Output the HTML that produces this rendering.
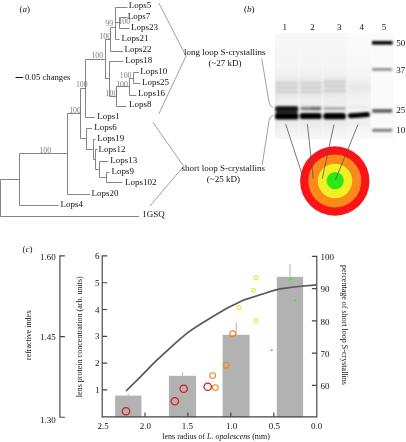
<!DOCTYPE html>
<html><head><meta charset="utf-8">
<style>
html,body{margin:0;padding:0;background:#fff;}
body{width:406px;height:442px;overflow:hidden;}
svg{display:block;will-change:transform;}
text{font-family:"Liberation Serif",serif;font-size:9px;fill:#111;}
.t{stroke:#666;stroke-width:0.8;fill:none;}
.bs text{font-size:7.8px;fill:#7c7c7c;}
.br{stroke:#777;stroke-width:0.7;fill:none;}
.ax{stroke:#444;stroke-width:1.15;fill:none;}
.bar{fill:#b2b2b2;}
.eb{stroke:#a0a0a0;stroke-width:0.8;}
</style></head><body>
<svg width="406" height="442" viewBox="0 0 406 442">
<defs>
<filter id="b1" x="-20%" y="-100%" width="140%" height="300%"><feGaussianBlur stdDeviation="0.9 0.8"/></filter>
<filter id="b2" x="-20%" y="-100%" width="140%" height="300%"><feGaussianBlur stdDeviation="1.3 0.9"/></filter>
<filter id="b3" x="-20%" y="-100%" width="140%" height="300%"><feGaussianBlur stdDeviation="1.6 3"/></filter>
<linearGradient id="gbg" x1="0" y1="0" x2="0" y2="1">
<stop offset="0" stop-color="#f8f8f8"/><stop offset="0.3" stop-color="#f5f5f5"/><stop offset="0.46" stop-color="#ededed"/><stop offset="0.8" stop-color="#eeeeee"/><stop offset="0.92" stop-color="#f2f2f2"/><stop offset="1" stop-color="#f7f7f7"/>
</linearGradient>
</defs>
<rect width="406" height="442" fill="#fff"/>

<!-- ===== panel a : tree ===== -->
<g class="bs">
<text x="39.4" y="152.5">100</text>
<text x="69.2" y="112.6">100</text>
<text x="75.9" y="86.6">100</text>
<text x="91.4" y="58.4">100</text>
<text x="99.4" y="38.9">100</text>
<text x="105.4" y="26.3">99</text>
<text x="118.4" y="23.8">100</text>
<text x="105.6" y="95.7">100</text>
<text x="116.2" y="86.7">100</text>
<text x="119.8" y="78.2">100</text>
</g>
<g id="tree" class="t">
<path d="M0.5 179.5V216.5H139"/>
<path d="M0.5 179.5H19.5"/>
<path d="M19.5 153.5V205.5H58.5"/>
<path d="M19.5 153.5H67.5"/>
<path d="M67.5 113.5V194.5H90.3"/>
<path d="M67.5 113.5H80.5"/>
<path d="M80.5 88.5V138.5H86.5"/>
<path d="M80.5 88.5H85.5"/>
<path d="M85.5 59.5V117.5H94.8"/>
<path d="M85.5 59.5H105.5"/>
<path d="M105.5 39.5V78.5H109.5"/>
<path d="M105.5 39.5H110.5"/>
<path d="M110.5 27.5V51.5H123"/>
<path d="M110.5 27.5H115.5"/>
<path d="M115.5 7.5V39.5H119.5"/>
<path d="M115.5 7.5H127.5"/>
<path d="M115.5 22.5H119.5"/>
<path d="M119.5 17.5V28.5H129.5"/>
<path d="M119.5 17.5H127.5"/>
<path d="M109.5 61.5V96.5H116.5"/>
<path d="M109.5 61.5H123.4"/>
<path d="M116.5 86.5V106.5H126.4"/>
<path d="M116.5 86.5H129.5"/>
<path d="M129.5 78.5V95.5H136.4"/>
<path d="M129.5 78.5H133.5"/>
<path d="M133.5 72.5V83.5H140.2"/>
<path d="M133.5 72.5H139"/>
<!-- short clade -->
<path d="M86.5 128.5V149.5H93.5"/>
<path d="M86.5 128.5H92"/>
<path d="M93.5 139.5V159.5H95.5"/>
<path d="M93.5 139.5H95.5"/>
<path d="M95.5 149.5V169.5H99.5"/>
<path d="M95.5 149.5H97.3"/>
<path d="M99.5 161.5V177.5H106.5"/>
<path d="M99.5 161.5H108.2"/>
<path d="M106.5 172.5V182.5H122.2"/>
<path d="M106.5 172.5H109.5"/>
</g>
<g id="treelabels">
<text x="128.8" y="7.9">Lops5</text>
<text x="127.7" y="18.9">Lops7</text>
<text x="131.1" y="29.9">Lops23</text>
<text x="121.4" y="40.9">Lops21</text>
<text x="124.5" y="52.4">Lops22</text>
<text x="125.2" y="63.4">Lops18</text>
<text x="140.2" y="74.4">Lops10</text>
<text x="141.9" y="84.9">Lops25</text>
<text x="137.9" y="96.4">Lops16</text>
<text x="129.0" y="107.4">Lops8</text>
<text x="97.3" y="119.2">Lops1</text>
<text x="94.3" y="130.0">Lops6</text>
<text x="97.3" y="140.6">Lops19</text>
<text x="98.6" y="151.8">Lops12</text>
<text x="110.2" y="162.7">Lops13</text>
<text x="111.6" y="173.9">Lops9</text>
<text x="124.9" y="184.7">Lops102</text>
<text x="91.6" y="195.6">Lops20</text>
<text x="60.6" y="207.0">Lops4</text>
<text x="142.3" y="217.3">1GSQ</text>
<text x="19.6" y="11.6">(<tspan font-style="italic">a</tspan>)</text>
<text x="25" y="79.6" textLength="45.5" lengthAdjust="spacingAndGlyphs">0.05 changes</text>
</g>
<path d="M15.5 77.5H23.2" stroke="#111" stroke-width="1"/>

<!-- brackets -->
<path class="br" d="M158.9 3L186 56.2L158.9 113.8"/>
<path class="br" d="M153 122.4L183.6 166.2L150 206"/>
<text x="184.1" y="54.9">long loop S-crystallins</text>
<text x="208.5" y="65.6">(~27 kD)</text>
<text x="181.6" y="170.6">short loop S-crystallins</text>
<text x="206.8" y="182.3">(~25 kD)</text>
<path class="br" d="M261.7 58.5L269 102Q270 106 272.8 107.4"/>
<path class="br" d="M262.2 165L269.2 120Q270 116.6 272.8 115.4"/>

<!-- ===== panel b : gel ===== -->
<text x="244" y="12.4">(<tspan font-style="italic">b</tspan>)</text>
<g id="gel">
<rect x="274.8" y="33.2" width="96.4" height="106" fill="url(#gbg)"/>
<rect x="347.5" y="33.2" width="23.7" height="106" fill="#fff" opacity="0.35"/>
<rect x="371.2" y="33.2" width="22.3" height="106" fill="#fafafa"/>
<g fill="#fbfbfb" opacity="0.55"><rect x="298.4" y="33.2" width="1.1" height="106"/><rect x="322" y="33.2" width="1.1" height="106"/><rect x="346.4" y="33.2" width="1.2" height="106"/></g>
<!-- smears -->
<g filter="url(#b3)" fill="#dadada">
<rect x="276" y="81" width="22" height="13"/>
<rect x="300.5" y="81" width="21" height="13"/>
<rect x="324" y="79.5" width="21.5" height="14"/>
<rect x="349" y="82" width="20" height="11" fill="#e6e6e6"/>
<rect x="276" y="121" width="93" height="3" fill="#e2e2e2"/>
</g>
<g filter="url(#b2)" fill="#cacaca">
<rect x="276" y="82.4" width="22" height="1.4"/>
<rect x="276" y="86.6" width="22" height="1.4"/>
<rect x="276" y="91" width="22" height="1.4"/>
<rect x="300.5" y="82.4" width="21" height="1.4"/>
<rect x="300.5" y="86.6" width="21" height="1.4"/>
<rect x="300.5" y="91" width="21" height="1.4"/>
<rect x="324" y="81" width="21.5" height="1.4"/>
<rect x="324" y="85.5" width="21.5" height="1.4"/>
<rect x="324" y="90" width="21.5" height="1.6"/>
<rect x="324" y="107" width="21.5" height="3" fill="#adadad"/>
<rect x="349" y="106" width="20" height="2" fill="#e6e6e6"/>
</g>
<!-- main bands -->
<g filter="url(#b1)">
<rect x="275.2" y="106.2" width="23" height="5.5" rx="2" fill="#080808"/>
<rect x="275" y="112.8" width="23.4" height="6.7" rx="2.6" fill="#000"/>
<rect x="276" y="110" width="21.4" height="4" fill="#222"/>
<rect x="300.4" y="106.8" width="21" height="3.4" rx="1.4" fill="#808080"/>
<rect x="311" y="106.8" width="10" height="3.4" rx="1.4" fill="#606060" opacity="0.6"/>
<rect x="299.8" y="113.1" width="21.8" height="6" rx="2.6" fill="#000"/>
<rect x="323.4" y="113.1" width="22.4" height="6.2" rx="2.6" fill="#000"/>
<path d="M350.4 115.7Q359 115.6 367.4 114.5" stroke="#000" stroke-width="5" stroke-linecap="round" fill="none"/>
</g>
<!-- markers -->
<g filter="url(#b1)">
<rect x="372" y="41" width="20.6" height="3.6" fill="#000"/>
<rect x="372.2" y="68.2" width="20" height="2.4" fill="#808080"/>
<rect x="372.2" y="109" width="20" height="3.8" fill="#626262"/>
<rect x="372.2" y="128.8" width="20" height="3" fill="#7c7c7c"/>
</g>
</g>
<text x="282.4" y="29.8">1</text>
<text x="310.3" y="29.8">2</text>
<text x="337" y="29.8">3</text>
<text x="359.5" y="29.8">4</text>
<text x="381.8" y="29.8">5</text>
<text x="396.3" y="45.5">50</text>
<text x="396.3" y="72.6">37</text>
<text x="396.3" y="113">25</text>
<text x="396.3" y="132.9">10</text>

<!-- circles -->
<circle cx="334.8" cy="181" r="34.7" fill="#fa1418"/>
<circle cx="334.8" cy="181" r="26.5" fill="#fb8a1a"/>
<circle cx="335" cy="181" r="17.3" fill="#f0f024"/>
<circle cx="335.2" cy="180.6" r="8.6" fill="#2aea16"/>
<g stroke="#555" stroke-width="0.8" fill="none">
<path d="M285.7 124.1L303.5 178.8"/>
<path d="M307.4 124.1L313.3 178.8"/>
<path d="M334 124.4L322.2 178.8"/>
<path d="M358 124.4L335.5 179.7"/>
</g>

<!-- ===== panel c ===== -->
<text x="22.4" y="252">(<tspan font-style="italic">c</tspan>)</text>
<!-- refractive axis -->
<path class="ax" d="M64.9 255.9H59.9V417.2H64.9M59.9 336.6H64.9"/>
<text x="40.1" y="259.7">1.60</text>
<text x="40.1" y="340">1.45</text>
<text x="40.1" y="422.6">1.30</text>
<text transform="translate(31.3 335) rotate(-90)" text-anchor="middle" textLength="50" lengthAdjust="spacingAndGlyphs">refractive index</text>
<text transform="translate(81.6 336.7) rotate(-90)" text-anchor="middle" textLength="121" lengthAdjust="spacingAndGlyphs">lens protein concentration (arb. units)</text>
<!-- bars -->
<rect class="bar" x="115.1" y="395.6" width="26.3" height="21.6"/>
<rect class="bar" x="168.9" y="375.8" width="27.2" height="41.4"/>
<rect class="bar" x="222.6" y="334.8" width="27" height="82.4"/>
<rect class="bar" x="276.8" y="276.8" width="26.3" height="140.4"/>
<path class="eb" d="M128.1 393.4V395.6M182.5 372.3V375.8M236.2 322.6V334.8M290 264V276.8"/>
<!-- axes -->
<path class="ax" d="M107.2 255.9H102.2V416.8H316.8V256.4H311.9"/>
<path class="ax" d="M102.2 282.7H107.2M102.2 309.5H107.2M102.2 336.3H107.2M102.2 363.1H107.2M102.2 389.9H107.2"/>
<path class="ax" d="M145 416.8V412.6M187.9 416.8V412.6M230.8 416.8V412.6M273.8 416.8V412.6"/>
<path class="ax" d="M316.8 288.6H311.9M316.8 320.8H311.9M316.8 353.1H311.9M316.8 385.4H311.9"/>
<g text-anchor="end">
<text x="99.4" y="259">6</text>
<text x="99.4" y="285.8">5</text>
<text x="99.4" y="312.5">4</text>
<text x="99.4" y="339.2">3</text>
<text x="99.4" y="366.2">2</text>
<text x="99.4" y="393.2">1</text>
</g>
<g text-anchor="middle">
<text x="103" y="429">2.5</text>
<text x="145.3" y="429">2.0</text>
<text x="187.3" y="429">1.5</text>
<text x="231.5" y="429">1.0</text>
<text x="274.4" y="429">0.5</text>
<text x="316.7" y="429">0.0</text>
</g>
<text x="320.6" y="260">100</text>
<text x="320.6" y="292.2">90</text>
<text x="320.6" y="324.5">80</text>
<text x="320.6" y="356.7">70</text>
<text x="320.6" y="389">60</text>
<text x="162.4" y="438.6" textLength="107.4" lengthAdjust="spacingAndGlyphs">lens radius of <tspan font-style="italic">L. opalescens</tspan> (mm)</text>
<text transform="translate(342.2 325) rotate(90)" text-anchor="middle" textLength="120" lengthAdjust="spacingAndGlyphs">percentage of short loop S-crystallins</text>
<!-- curve -->
<path d="M126 391L139.9 377.4L154.7 362.1L172.4 345.8Q181 338 188.7 331.9Q196 326.8 203.5 322.2L215 315.2L227.3 308L242.7 300.4L265 293.2Q272 290.6 280 288.9Q298 286 316.8 284.8" stroke="#585858" stroke-width="1.7" fill="none" stroke-linejoin="round"/>
<!-- points -->
<g fill="none" stroke="#d81420" stroke-width="1.25">
<circle cx="126" cy="411.3" r="3.7"/>
<circle cx="174.8" cy="401.2" r="3.7"/>
<circle cx="183.7" cy="388.8" r="3.7"/>
<circle cx="207.7" cy="386.8" r="3.7"/>
</g>
<g fill="none" stroke="#ee881c" stroke-width="1.1">
<circle cx="212.7" cy="375.6" r="2.9"/>
<circle cx="215.3" cy="387.6" r="2.9"/>
<circle cx="226.3" cy="365.2" r="2.9"/>
<circle cx="232.7" cy="333.8" r="2.9"/>
</g>
<g fill="#ffffb4" stroke="#e6e030" stroke-width="1">
<circle cx="256" cy="277.8" r="2"/>
<circle cx="253.5" cy="290.3" r="2"/>
<circle cx="239.1" cy="307.6" r="2"/>
<circle cx="256" cy="320.7" r="2"/>
</g>
<g fill="#3ee628">
<circle cx="271.7" cy="350.2" r="1.1"/>
<circle cx="290" cy="279.5" r="1.1"/>
<circle cx="291.8" cy="278.8" r="1.1"/>
<circle cx="295.1" cy="300.5" r="1.1"/>
</g>
</svg>
</body></html>
